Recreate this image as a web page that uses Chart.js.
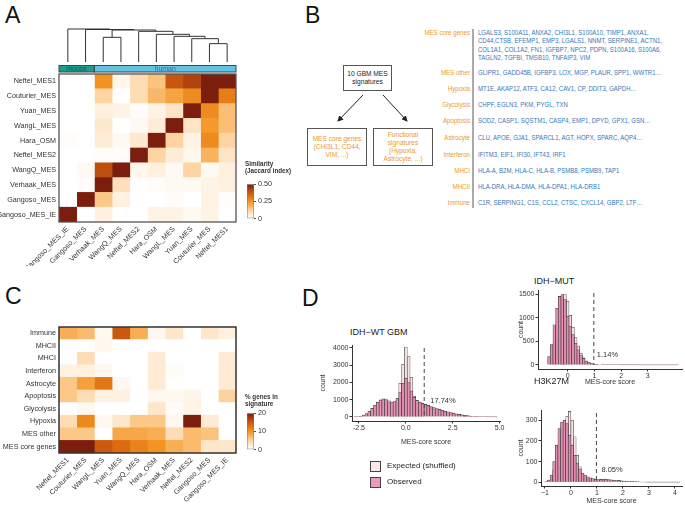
<!DOCTYPE html>
<html>
<head>
<meta charset="utf-8">
<script src="https://cdn.jsdelivr.net/npm/chart.js@4.4.0/dist/chart.umd.min.js"></script>
<style>
  body { margin: 0; background: #fff; }
  #page { position: relative; width: 685px; height: 505px; overflow: hidden; background: #fff;
          font-family: 'Liberation Sans', Arial, sans-serif; color: #333; }
  canvas { position: absolute; }
  .panel { position: absolute; font-family: 'Liberation Sans', Arial, sans-serif; font-size: 23px; color: #111; line-height: 1; }
  .box { position: absolute; border: 1.5px solid #555; box-sizing: border-box; display: flex; align-items: center;
         justify-content: center; text-align: center; font-size: 6.6px; line-height: 8.2px; white-space: pre; }
  .lab { position: absolute; left: 370px; width: 100px; text-align: right; font-size: 7px; line-height: 8.6px;
         color: #eb9a2c; transform: scaleX(0.88); transform-origin: right center; white-space: pre; }
  .genes { position: absolute; left: 478px; font-size: 7px; line-height: 8.6px; color: #3478b8; white-space: pre;
           transform: scaleX(0.86); transform-origin: left top; }
  .cbt { position: absolute; font-size: 7px; line-height: 6.6px; font-weight: bold; color: #333; white-space: pre;
         transform: scaleX(0.9); transform-origin: left top; }
  .htitle { position: absolute; font-size: 9px; color: #222; white-space: pre; }
  .leg { position: absolute; width: 11px; height: 11px; border: 1px solid #444; box-sizing: border-box; }
  .legt { position: absolute; font-size: 8px; color: #222; }
</style>
</head>
<body>
<div id="page">
  <div class="panel" style="left:5px;top:4px">A</div>
  <div class="panel" style="left:305px;top:4px">B</div>
  <div class="panel" style="left:5px;top:285px">C</div>
  <div class="panel" style="left:302px;top:287px">D</div>

  <canvas id="simChart" width="300" height="266" style="left:0;top:0"></canvas>
  <div class="cbt" style="left:245px;top:161px">Similarity
(Jaccard index)</div>
  <canvas id="simBar" width="40" height="47" style="left:247px;top:178px"></canvas>

  <!-- panel B -->
  <svg style="position:absolute;left:300px;top:0" width="385" height="260">
    <defs>
      <marker id="ah" markerWidth="6" markerHeight="6" refX="5" refY="3" orient="auto">
        <path d="M0,0 L6,3 L0,6 z" fill="#222"/>
      </marker>
    </defs>
    <line x1="63" y1="95" x2="38" y2="121" stroke="#222" stroke-width="1" marker-end="url(#ah)"/>
    <line x1="83" y1="95" x2="107" y2="121" stroke="#222" stroke-width="1" marker-end="url(#ah)"/>
    <line x1="173" y1="29" x2="173" y2="208" stroke="#555" stroke-width="1"/>
  </svg>
  <div class="box" style="left:343px;top:65px;width:49px;height:26px;color:#222">10 GBM MES
signatures</div>
  <div class="box" style="left:307px;top:128px;width:60px;height:38px;color:#eb9a2c">MES core genes
(CHI3L1, CD44,
VIM, ...)</div>
  <div class="box" style="left:373px;top:128px;width:60px;height:38px;color:#eb9a2c">Functional
signatures
(Hypoxia,
Astrocyte, ...)</div>
  <div id="sigList"></div>

  <canvas id="pctChart" width="300" height="225" style="left:0;top:280px"></canvas>
  <div class="cbt" style="left:245px;top:394px">% genes in
signature</div>
  <canvas id="pctBar" width="40" height="49" style="left:247px;top:407px"></canvas>

  <!-- panel D -->
  <div class="htitle" style="left:350px;top:327px">IDH−WT GBM</div>
  <div class="htitle" style="left:534px;top:276px">IDH−MUT</div>
  <div class="htitle" style="left:534px;top:376px">H3K27M</div>
  <canvas id="wtChart" width="191" height="108" style="left:319px;top:338px"></canvas>
  <canvas id="mutChart" width="168" height="102" style="left:517px;top:284px"></canvas>
  <canvas id="h3Chart" width="168" height="101" style="left:517px;top:404px"></canvas>
  <div class="leg" style="left:370px;top:461px;background:#fbe7e7"></div>
  <div class="legt" style="left:387px;top:461px">Expected (shuffled)</div>
  <div class="leg" style="left:370px;top:477px;background:#ea9bbd"></div>
  <div class="legt" style="left:387px;top:477px">Observed</div>
</div>

<script>
const F = "'Liberation Sans', Arial, sans-serif";
Chart.defaults.font.family = F;
Chart.defaults.color = '#333';

// ---------- panel A : signature similarity ----------
const simRows = ['Neftel_MES1', 'Couturier_MES', 'Yuan_MES', 'WangL_MES', 'Hara_OSM', 'Neftel_MES2',
                 'WangQ_MES', 'Verhaak_MES', 'Gangoso_MES', 'Gangoso_MES_IE'];
const simCols = ['Gangoso_MES_IE', 'Gangoso_MES', 'Verhaak_MES', 'WangQ_MES', 'Neftel_MES2', 'Hara_OSM',
                 'WangL_MES', 'Yuan_MES', 'Couturier_MES', 'Neftel_MES1'];
const simValues = [
  [0, 0, 0.25, 0.03, 0.10, 0.16, 0.38, 0.42, 1, 1],
  [0, 0, 0.12, 0, 0.10, 0.18, 0.22, 0.27, 1, 0.30],
  [0, 0, 0.05, 0.04, 0.01, 0.04, 0.08, 1, 0.27, 0.17],
  [0, 0, 0.07, 0, 0.02, 0.06, 1, 0.08, 0.24, 0.17],
  [0.01, 0, 0.06, 0.02, 0.07, 1, 0.12, 0.04, 0.27, 0.12],
  [0, 0, 0.01, 0.01, 1, 0.12, 0.06, 0.03, 0.19, 0.08],
  [0, 0.02, 0.40, 1, 0.03, 0.05, 0.02, 0.12, 0.02, 0.05],
  [0, 0.01, 1, 0.09, 0, 0.01, 0.02, 0.02, 0.04, 0.05],
  [0, 1, 0.15, 0.05, 0, 0, 0.01, 0, 0.04, 0.01],
  [1, 0, 0.05, 0, 0, 0.04, 0.04, 0.02, 0.04, 0]
];
const simTicks = [0, 0.25, 0.5];
const colSpecies = ['mouse', 'mouse', 'human', 'human', 'human', 'human', 'human', 'human', 'human', 'human'];
// hclust style merges: [left, right, height]; ids >= 10 are earlier merges
const dendroMerges = [
  [8, 9, 0.55], [7, 10, 0.70], [2, 3, 0.74], [6, 11, 0.77], [5, 13, 0.83],
  [4, 14, 0.92], [12, 15, 0.96], [1, 16, 0.975], [0, 17, 0.99]
];

// ---------- panel B : signatures ----------
const sigNames = ['MES core genes', 'MES other', 'Hypoxia', 'Glycolysis', 'Apoptosis', 'Astrocyte',
                  'Interferon', 'MHCI', 'MHCII', 'Immune'];
const sigGenes = [
  'LGALS3, S100A11, ANXA2, CHI3L1, S100A10, TIMP1, ANXA1,\nCD44,CTSB, EFEMP1, EMP3, LGALS1, NNMT, SERPINE1, ACTN1,\nCOL1A1, COL1A2, FN1, IGFBP7, NPC2, PDPN, S100A16, S100A6,\nTAGLN2, TGFBI, TMSB10, TNFAIP3, VIM',
  'GLIPR1, GADD45B, IGFBP3, LOX, MGP, PLAUR, SPP1, WWTR1…',
  'MT1E, AKAP12, ATF3, CA12, CAV1, CP, DDIT3, GAPDH…',
  'CHPF, EGLN3, PKM, PYGL, TXN',
  'SOD2, CASP1, SQSTM1, CASP4, EMP1, DPYD, GPX1, GSN…',
  'CLU, APOE, GJA1, SPARCL1, AGT, HOPX, SPARC, AQP4…',
  'IFITM3, EIF1, IFI30, IFT43, IRF1',
  'HLA-A, B2M, HLA-C, HLA-B, PSMB8, PSMB9, TAP1',
  'HLA-DRA, HLA-DMA, HLA-DPA1, HLA-DRB1',
  'C1R, SERPING1, C1S, CCL2, CTSC, CXCL14, GBP2, LTF…'
];

// ---------- panel C : % genes in signature ----------
const pctRows = ['Immune', 'MHCII', 'MHCI', 'Interferon', 'Astrocyte', 'Apoptosis', 'Glycolysis',
                 'Hypoxia', 'MES other', 'MES core genes'];
const pctCols = ['Neftel_MES1', 'Couturier_MES', 'WangL_MES', 'Yuan_MES', 'WangQ_MES', 'Hara_OSM',
                 'Verhaak_MES', 'Neftel_MES2', 'Gangoso_MES', 'Gangoso_MES_IE'];
const pctValues = [
  [8, 7, 1, 15, 8, 1, 3, 0, 3, 2],
  [0, 0, 1, 0, 0, 0, 0, 0, 0, 0],
  [0, 4, 0, 0, 0, 2.5, 0, 0, 0, 2.5],
  [2, 2, 1, 0, 0, 2.5, 0.5, 0, 0, 2.5],
  [6, 9, 12.5, 1, 0, 2.5, 0, 0, 0, 2.5],
  [6, 4, 2, 2, 0, 1, 1, 1.5, 0, 5],
  [0, 1, 0, 0, 0, 3, 0.5, 1.5, 0, 0],
  [4, 11, 1, 3, 6, 6, 1, 20, 2.5, 0],
  [6, 6, 0, 8.5, 8.5, 8, 4, 7, 6.5, 0],
  [20, 20, 15, 13.5, 11.5, 10, 8, 7, 3, 3]
];
const pctTicks = [0, 5, 10, 15, 20];

// ---------- panel D : MES-core score histograms ----------
const wtBinWidth = 0.15;
const wtObservedStart = -2.7;
const wtObserved = [10, 25, 55, 110, 200, 330, 500, 680, 860, 990, 1050, 1010, 940, 870, 900, 1080, 1450,
  1950, 2250, 2000, 1500, 1150, 960, 860, 790, 730, 670, 610, 550, 490, 440, 390, 340, 300, 260, 220, 185,
  150, 120, 95, 75, 58, 44, 33, 24, 17, 12, 8, 6, 4, 3];
const wtExpectedStart = -0.75;
const wtExpected = [40, 300, 1000, 1950, 3050, 4050, 3500, 2300, 1200, 450, 120, 30];
const wtPct = '17.74%';

const mutBinWidth = 0.1;
const mutObservedStart = -0.7;
const mutObserved = [180, 430, 850, 1200, 1450, 1490, 1380, 1030, 810, 640, 460, 320, 210, 140, 85, 50, 30,
  20, 14, 10, 8, 7, 6, 5, 5, 4, 4, 3, 3, 3, 2, 2, 2, 2, 2, 1, 1, 1, 1, 1, 1, 1, 1, 1, 1, 1, 1, 1, 1];
const mutExpectedStart = -0.6;
const mutExpected = [150, 450, 850, 1200, 1420, 1500, 1350, 1050, 800, 580, 400, 250, 150, 85, 45, 20, 8, 3];
const mutPct = '1.14%';

const h3BinWidth = 0.1;
const h3ObservedStart = -0.95;
const h3Observed = [3, 11, 35, 100, 180, 260, 292, 300, 284, 228, 180, 131, 90, 65, 45, 35, 27, 22, 18, 15,
  13, 14, 16, 15, 13, 12, 10, 8, 9, 7, 6, 5, 4, 5, 3, 3, 2, 2, 2, 1, 1, 1, 1, 1, 1, 1, 1, 1, 1, 1, 1, 1];
const h3ExpectedStart = -0.85;
const h3Expected = [8, 25, 60, 120, 180, 240, 290, 318, 343, 300, 220, 131, 75, 43, 22, 10, 4];
const h3Pct = '8.05%';

const scoreCutoff = 0.98;

// ---------- helpers ----------
const heatStops = [[0, '#ffffff'], [0.1, '#fff0e0'], [0.3, '#fcc888'], [0.5, '#f39422'],
                   [0.7, '#d9650e'], [0.85, '#ad4210'], [1, '#7c1e0e']];

function hexRgb(h) {
  return [parseInt(h.slice(1, 3), 16), parseInt(h.slice(3, 5), 16), parseInt(h.slice(5, 7), 16)];
}

function heatColor(t) {
  t = Math.max(0, Math.min(1, t));
  for (let i = 1; i < heatStops.length; i++) {
    const [p1, c1] = heatStops[i];
    const [p0, c0] = heatStops[i - 1];
    if (t <= p1) {
      const f = (t - p0) / (p1 - p0);
      const a = hexRgb(c0), b = hexRgb(c1);
      return `rgb(${a.map((v, k) => Math.round(v + (b[k] - v) * f)).join(',')})`;
    }
  }
  return heatStops[heatStops.length - 1][1];
}

const framePlugin = {
  id: 'frame',
  afterDatasetsDraw(chart, args, opts) {
    const { ctx, chartArea: c } = chart;
    ctx.save();
    ctx.strokeStyle = opts.color || '#444';
    ctx.lineWidth = opts.width || 1.2;
    ctx.strokeRect(c.left, c.top, c.right - c.left, c.bottom - c.top);
    ctx.restore();
  }
};

// dendrogram + species bar above panel A
const dendroPlugin = {
  id: 'dendro',
  afterDraw(chart) {
    const x = chart.scales.x, c = chart.ctx;
    const top = 29, bottom = 62;
    const hmax = dendroMerges[dendroMerges.length - 1][2];
    const yOf = h => bottom - h / hmax * (bottom - top);
    const nodes = simCols.map((_, j) => ({ x: x.getPixelForValue(j + 0.5), h: 0 }));
    c.save();
    c.strokeStyle = '#333';
    c.lineWidth = 1;
    dendroMerges.forEach(([a, b, h]) => {
      const A = nodes[a], B = nodes[b], y = yOf(h);
      c.beginPath();
      c.moveTo(A.x, yOf(A.h));
      c.lineTo(A.x, y);
      c.lineTo(B.x, y);
      c.lineTo(B.x, yOf(B.h));
      c.stroke();
      nodes.push({ x: (A.x + B.x) / 2, h });
    });

    // species annotation
    const y0 = 65.5, y1 = 72;
    const groups = [];
    colSpecies.forEach((s, j) => {
      const last = groups[groups.length - 1];
      if (last && last.name === s) last.to = j + 1;
      else groups.push({ name: s, from: j, to: j + 1 });
    });
    const fill = { mouse: '#18a08f', human: '#63c3e2' };
    const ink = { mouse: '#0d5e55', human: '#2f7390' };
    c.font = `7px ${F}`;
    c.textAlign = 'center';
    c.textBaseline = 'middle';
    groups.forEach(g => {
      const l = x.getPixelForValue(g.from), r = x.getPixelForValue(g.to);
      c.fillStyle = fill[g.name];
      c.fillRect(l, y0, r - l, y1 - y0);
      c.strokeStyle = '#444';
      c.strokeRect(l, y0, r - l, y1 - y0);
      c.fillStyle = ink[g.name];
      c.fillText(g.name, (l + r) / 2, (y0 + y1) / 2 + 0.5);
    });
    c.restore();
  }
};

function heatmap(id, rows, cols, values, vmax, o) {
  const datasets = cols.map((col, j) => ({
    label: col,
    data: rows.map(() => 1),
    backgroundColor: rows.map((r, i) => heatColor(values[i][j] / vmax)),
    xAxisID: 'x',
    yAxisID: 'y'
  }));
  return new Chart(document.getElementById(id), {
    type: 'bar',
    data: { labels: rows, datasets },
    options: {
      indexAxis: 'y',
      responsive: false,
      animation: false,
      barPercentage: 1,
      categoryPercentage: 1,
      borderWidth: 0,
      layout: { padding: o.padding },
      plugins: {
        legend: { display: false },
        tooltip: { enabled: false },
        frame: o.frame
      },
      scales: {
        x: { type: 'linear', stacked: true, min: 0, max: cols.length, display: false },
        cols: {
          type: 'category', labels: cols, position: 'bottom', offset: true,
          grid: { display: false, drawTicks: false }, border: { display: false },
          ticks: { autoSkip: false, maxRotation: 45, minRotation: 45, padding: 3, color: '#333', font: { size: 7.2 } },
          afterFit: s => { s.height = o.xh; }
        },
        y: {
          stacked: true,
          grid: { display: false, drawTicks: false }, border: { display: false },
          ticks: { padding: 3, color: '#333', font: { size: 7.2 } },
          afterFit: s => { s.width = o.yw; }
        }
      }
    },
    plugins: [framePlugin].concat(o.extra || [])
  });
}

function colorbar(id, vmax, ticks, fmt) {
  return new Chart(document.getElementById(id), {
    type: 'bar',
    data: {
      labels: [''],
      datasets: [{
        data: [vmax],
        backgroundColor: ctx => {
          const ca = ctx.chart.chartArea;
          if (!ca) return '#fff';
          const g = ctx.chart.ctx.createLinearGradient(0, ca.bottom, 0, ca.top);
          heatStops.forEach(([p, c]) => g.addColorStop(p, c));
          return g;
        },
        borderColor: '#777',
        borderWidth: 0.8,
        borderSkipped: false
      }]
    },
    options: {
      responsive: false,
      animation: false,
      barPercentage: 1,
      categoryPercentage: 1,
      layout: { padding: { top: 4, bottom: 4 } },
      plugins: { legend: { display: false }, tooltip: { enabled: false } },
      scales: {
        x: { display: false },
        y: {
          position: 'right', min: 0, max: vmax,
          afterBuildTicks: s => { s.ticks = ticks.map(v => ({ value: v })); },
          grid: { drawOnChartArea: false, tickLength: 2, color: '#555' },
          border: { display: false },
          ticks: { padding: 2, color: '#333', font: { size: 7.2 }, callback: v => fmt(v) },
          afterFit: s => { s.width = 33; }
        }
      }
    }
  });
}

const cutoffPlugin = {
  id: 'cutoff',
  afterDatasetsDraw(chart, args, o) {
    const { ctx, scales: { x, y }, chartArea } = chart;
    const px = x.getPixelForValue(o.value);
    ctx.save();
    ctx.strokeStyle = '#444';
    ctx.lineWidth = 1;
    ctx.setLineDash([4, 3]);
    ctx.beginPath();
    ctx.moveTo(px, chartArea.top + 3);
    ctx.lineTo(px, y.getPixelForValue(0));
    ctx.stroke();
    ctx.setLineDash([]);
    ctx.fillStyle = '#333';
    ctx.font = `7.5px ${F}`;
    ctx.textBaseline = 'middle';
    ctx.fillText(o.text, px + o.gap, y.getPixelForValue(o.textAt));
    ctx.restore();
  }
};

function binned(start, width, counts) {
  return counts.map((c, i) => ({ x: Math.round((start + i * width) * 1000) / 1000, y: c }));
}

function histogram(id, h) {
  const tickFont = { size: 7 };
  return new Chart(document.getElementById(id), {
    type: 'bar',
    data: {
      datasets: [
        { label: 'Observed', data: h.observed, backgroundColor: 'rgba(230,140,178,0.92)',
          borderColor: '#3a3a3a', borderWidth: 0.6, grouped: false },
        { label: 'Expected (shuffled)', data: h.expected, backgroundColor: '#f6e2e2',
          borderColor: '#3a3a3a', borderWidth: 0.6, grouped: false }
      ]
    },
    options: {
      responsive: false,
      animation: false,
      barPercentage: 1,
      categoryPercentage: 1,
      layout: { padding: h.padding },
      plugins: {
        legend: { display: false },
        tooltip: { enabled: false },
        cutoff: { value: scoreCutoff, text: h.pct, textAt: h.pctAt, gap: h.gap }
      },
      scales: {
        x: {
          type: 'linear', min: h.xmin, max: h.xmax, offset: false,
          afterBuildTicks: s => { s.ticks = h.xticks.map(v => ({ value: v })); },
          grid: { drawOnChartArea: false, tickLength: 2.5, color: '#333', offset: false },
          border: { color: '#333', width: 1 },
          ticks: { padding: 0, color: '#333', font: tickFont, callback: h.xfmt },
          title: { display: true, text: 'MES-core score', color: '#333', font: tickFont, padding: 0 },
          afterFit: s => { s.height = h.xh; }
        },
        y: {
          min: h.ymin, max: h.ymax,
          afterBuildTicks: s => { s.ticks = h.yticks.map(v => ({ value: v })); },
          grid: { drawOnChartArea: false, tickLength: 2.5, color: '#333' },
          border: { color: '#333', width: 1 },
          ticks: { padding: 1, color: '#333', font: tickFont, callback: v => String(v) },
          title: { display: true, text: 'count', color: '#333', font: tickFont, padding: 0 },
          afterFit: s => { s.width = h.yw; }
        }
      }
    },
    plugins: [cutoffPlugin]
  });
}

// ---------- build ----------
heatmap('simChart', simRows, simCols, simValues, 0.5, {
  padding: { top: 74, right: 64, left: 0, bottom: 0 }, yw: 59, xh: 44,
  frame: { color: '#555', width: 1.3 }, extra: [dendroPlugin]
});
colorbar('simBar', 0.5, simTicks, v => (v === 0 ? '0' : v.toFixed(2)));

heatmap('pctChart', pctRows, pctCols, pctValues, 20, {
  padding: { top: 47, right: 64, left: 0, bottom: 0 }, yw: 59, xh: 52,
  frame: { color: '#333', width: 1.5 }
});
colorbar('pctBar', 20, pctTicks, v => String(v));

const list = document.getElementById('sigList');
const bRowY = [33, 73, 89, 105, 121, 138, 155, 171, 187, 203];
sigNames.forEach((name, i) => {
  const top = bRowY[i] - 4.3;
  const l = document.createElement('div');
  l.className = 'lab';
  l.style.top = top + 'px';
  l.textContent = name;
  const g = document.createElement('div');
  g.className = 'genes';
  g.style.top = top + 'px';
  g.textContent = sigGenes[i];
  list.appendChild(l);
  list.appendChild(g);
});

histogram('wtChart', {
  observed: binned(wtObservedStart, wtBinWidth, wtObserved),
  expected: binned(wtExpectedStart, wtBinWidth, wtExpected),
  xmin: -2.87, xmax: 5.02, xticks: [-2.5, 0, 2.5, 5], xfmt: v => v.toFixed(1),
  ymin: -232, ymax: 4170, yticks: [0, 1000, 2000, 3000, 4000],
  padding: { top: 7, right: 10, left: 0, bottom: 0 }, yw: 33, xh: 25,
  pct: wtPct, pctAt: 930, gap: 6
});

histogram('mutChart', {
  observed: binned(mutObservedStart, mutBinWidth, mutObserved),
  expected: binned(mutExpectedStart, mutBinWidth, mutExpected),
  xmin: -1.11, xmax: 4.28, xticks: [0, 1, 2, 3], xfmt: v => String(v),
  ymin: -85, ymax: 1585, yticks: [0, 500, 1000, 1500],
  padding: { top: 6, right: 3, left: 0, bottom: 0 }, yw: 21, xh: 17,
  pct: mutPct, pctAt: 210, gap: 3
});

histogram('h3Chart', {
  observed: binned(h3ObservedStart, h3BinWidth, h3Observed),
  expected: binned(h3ExpectedStart, h3BinWidth, h3Expected),
  xmin: -1.15, xmax: 4.27, xticks: [-1, 0, 1, 2, 3, 4], xfmt: v => String(v).replace('-', '−'),
  ymin: -18, ymax: 350, yticks: [0, 100, 200, 300],
  padding: { top: 6, right: 3, left: 0, bottom: 0 }, yw: 24, xh: 19,
  pct: h3Pct, pctAt: 59, gap: 5
});
</script>
</body>
</html>
